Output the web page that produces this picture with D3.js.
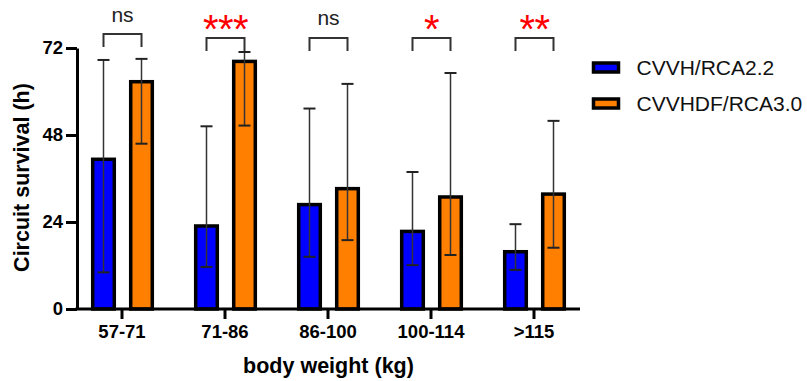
<!DOCTYPE html>
<html>
<head>
<meta charset="utf-8">
<script src="https://cdn.jsdelivr.net/npm/d3@7"></script>
<style>
body { margin: 0; background: #fff; }
svg { font-family: "Liberation Sans", Arial, sans-serif; }
</style>
</head>
<body>
<div id="chart"></div>
<script>
var categories = ["57-71", "71-86", "86-100", "100-114", ">115"];
var series = ["CVVH/RCA2.2", "CVVHDF/RCA3.0"];
var blueValues = [41.3, 22.9, 28.8, 21.4, 15.8];
var blueUpper = [68.7, 50.4, 55.3, 37.8, 23.4];
var blueLower = [10.1, 11.6, 14.4, 12.1, 10.8];
var orangeValues = [62.7, 68.3, 33.2, 30.9, 31.7];
var orangeUpper = [69.0, 70.9, 62.1, 65.1, 51.9];
var orangeLower = [45.6, 50.6, 19.0, 14.9, 16.9];
var significance = ["ns", "***", "ns", "*", "**"];
var yTicks = [0, 24, 48, 72];

var svgWidth = 807;
var svgHeight = 381;
var axisLeft = 77;
var axisRight = 580;
var plotTop = 48;
var plotBottom = 309;
var colors = ["#0000ff", "#ff7f00"];

var svg = d3
.select("#chart")
.append("svg")
.attr("width", svgWidth)
.attr("height", svgHeight);

var xScale = d3
.scaleBand()
.domain(categories)
.range([70.5, 585.5]);

var xSub = d3
.scaleBand()
.domain(series)
.range([-29.3, 30.3])
.paddingInner(0.432);

var yScale = d3
.scaleLinear()
.domain([0, 72])
.range([plotBottom, plotTop]);

// build the rows
var rows = categories.map(function(c, i) {
    return {
        cat: c,
        sig: significance[i],
        bars: [
            { s: series[0], v: blueValues[i], hi: blueUpper[i], lo: blueLower[i], c: colors[0] },
            { s: series[1], v: orangeValues[i], hi: orangeUpper[i], lo: orangeLower[i], c: colors[1] }
        ]
    };
});

var groups = svg
.selectAll("g.group")
.data(rows)
.enter()
.append("g")
.attr("class", "group")
.attr("transform", function(d) {
    return "translate(" + (xScale(d.cat) + xScale.bandwidth() / 2) + ",0)";
});

var bars = groups
.selectAll("g.bar")
.data(function(d) { return d.bars; })
.enter()
.append("g")
.attr("class", "bar");

bars
.append("rect")
.attr("x", function(d) { return xSub(d.s); })
.attr("y", function(d) { return yScale(d.v); })
.attr("width", xSub.bandwidth())
.attr("height", function(d) { return plotBottom - yScale(d.v); })
.attr("fill", function(d) { return d.c; })
.attr("stroke", "#000")
.attr("stroke-width", 3.5);

// error bars
bars
.append("line")
.attr("x1", function(d) { return xSub(d.s) + xSub.bandwidth() / 2; })
.attr("x2", function(d) { return xSub(d.s) + xSub.bandwidth() / 2; })
.attr("y1", function(d) { return yScale(d.lo); })
.attr("y2", function(d) { return yScale(d.hi); })
.attr("stroke", "#333")
.attr("stroke-width", 1.5);

["lo", "hi"].forEach(function(k) {
    bars
    .append("line")
    .attr("x1", function(d) { return xSub(d.s) + xSub.bandwidth() / 2 - 6; })
    .attr("x2", function(d) { return xSub(d.s) + xSub.bandwidth() / 2 + 6; })
    .attr("y1", function(d) { return yScale(d[k]); })
    .attr("y2", function(d) { return yScale(d[k]); })
    .attr("stroke", "#222")
    .attr("stroke-width", 2);
});

// significance brackets
var bx0 = xSub(series[0]) + xSub.bandwidth() / 2;
var bx1 = xSub(series[1]) + xSub.bandwidth() / 2;

groups
.append("path")
.attr("d", function(d, i) {
    var top = i === 0 ? 34 : 38;
    return "M" + bx0 + "," + (top + 13) + "V" + top + "H" + bx1 + "V" + (top + 13);
})
.attr("fill", "none")
.attr("stroke", "#333")
.attr("stroke-width", 2);

groups
.append("text")
.attr("x", (bx0 + bx1) / 2)
.attr("y", function(d, i) {
    if (d.sig === "ns") {
        return i === 0 ? 22 : 25;
    }
    return 43;
})
.attr("text-anchor", "middle")
.attr("font-size", function(d) { return d.sig === "ns" ? 21 : 40; })
.attr("letter-spacing", function(d) { return d.sig === "ns" ? 0 : -0.5; })
.attr("fill", function(d) { return d.sig === "ns" ? "#222" : "#ff0000"; })
.text(function(d) { return d.sig; });

// axes
var yAxis = d3.axisLeft(yScale).tickValues(yTicks).tickSize(11).tickSizeOuter(0).tickPadding(3);
var yG = svg
.append("g")
.attr("transform", "translate(" + axisLeft + ",0)")
.call(yAxis);
yG.select(".domain").attr("stroke-width", 3).attr("stroke", "#000");
yG.selectAll(".tick line").attr("stroke-width", 3).attr("stroke", "#000");
yG.selectAll(".tick text")
.attr("font-size", 18.5)
.attr("font-weight", "bold")
.attr("font-family", "Liberation Sans, Arial, sans-serif")
.attr("fill", "#000");

var xAxis = d3.axisBottom(xScale).tickSize(10).tickSizeOuter(0).tickPadding(6);
var xG = svg
.append("g")
.attr("transform", "translate(0," + plotBottom + ")")
.call(xAxis);
xG.select(".domain").remove();
xG.selectAll(".tick line").attr("stroke-width", 3).attr("stroke", "#000");
xG.selectAll(".tick text")
.attr("font-size", 18.5)
.attr("font-weight", "bold")
.attr("font-family", "Liberation Sans, Arial, sans-serif")
.attr("fill", "#000");

xG
.append("line")
.attr("x1", axisLeft - 1.5)
.attr("x2", axisRight)
.attr("y1", 0)
.attr("y2", 0)
.attr("stroke", "#000")
.attr("stroke-width", 3);

// axis labels
svg
.append("text")
.attr("x", (axisLeft + axisRight) / 2)
.attr("y", 373)
.attr("text-anchor", "middle")
.attr("font-size", 21.5)
.attr("font-weight", "bold")
.text("body weight (kg)");

svg
.append("text")
.attr("transform", "translate(29,177.5)rotate(-90)")
.attr("text-anchor", "middle")
.attr("font-size", 21.5)
.attr("font-weight", "bold")
.text("Circuit survival (h)");

// legend
var legend = svg
.selectAll("g.legend")
.data(series)
.enter()
.append("g")
.attr("class", "legend")
.attr("transform", function(d, i) {
    return "translate(593.5," + (67.5 + i * 36) + ")";
});

legend
.append("rect")
.attr("x", 0)
.attr("y", -4.5)
.attr("width", 25)
.attr("height", 9)
.attr("fill", function(d, i) { return colors[i]; })
.attr("stroke", "#000")
.attr("stroke-width", 3.5);

legend
.append("text")
.attr("x", 43)
.attr("y", 7.5)
.attr("font-size", 21)
.attr("fill", "#111")
.text(function(d) { return d; });
</script>
</body>
</html>
